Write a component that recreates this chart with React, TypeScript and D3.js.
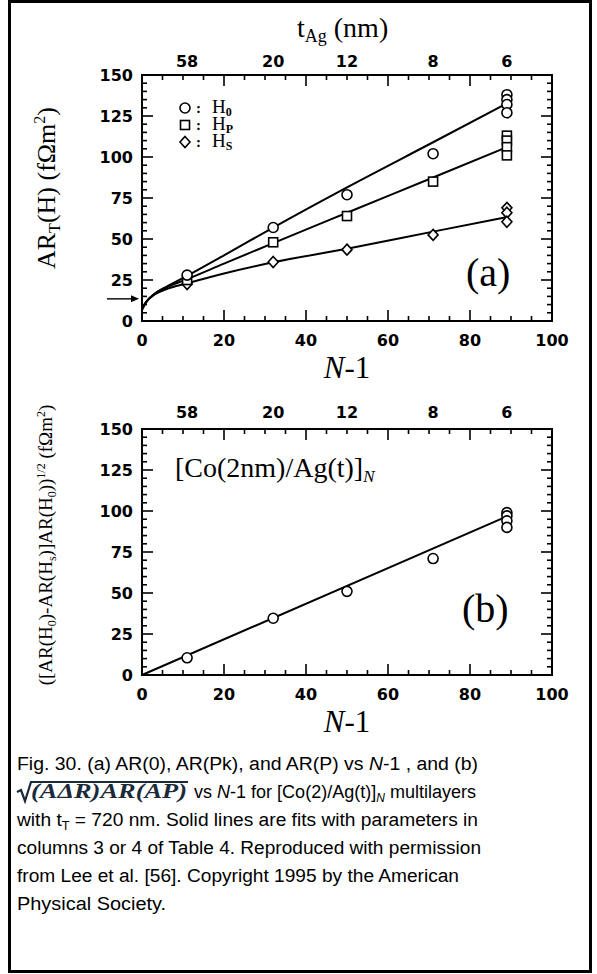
import React from 'react';
import * as d3 from 'd3';

// ---- data ----
const xTickMajor = [0, 20, 40, 60, 80, 100];
const yTickMajor = [0, 25, 50, 75, 100, 125, 150];
const topTickPos = [11, 32, 50, 71, 89];
const topTickLabels = ['58', '20', '12', '8', '6'];

const h0Points: [number, number][] = [[11, 28], [32, 57], [50, 77], [71, 102], [89, 138], [89, 135], [89, 132], [89, 127]];
const hpPoints: [number, number][] = [[11, 25], [32, 48], [50, 64], [71, 85], [89, 113], [89, 110], [89, 106], [89, 101]];
const hsPoints: [number, number][] = [[11, 22.5], [32, 36], [50, 43.5], [71, 52.5], [89, 69], [89, 66], [89, 60.5]];
const bPoints: [number, number][] = [[11, 10.5], [32, 34.6], [50, 51], [71, 71], [89, 99], [89, 97], [89, 94], [89, 90]];

const h0Fit: [number, number][] = [[0, 7], [1, 11.5], [3, 16.5], [6, 21], [11, 27.5], [20, 40], [32, 57], [50, 81.5], [71, 109], [89, 132.7]];
const hpFit: [number, number][] = [[0, 7], [1, 11.5], [3, 16.5], [6, 20.5], [11, 25.5], [20, 35], [32, 47.5], [50, 66], [71, 87.5], [89, 106]];
const hsFit: [number, number][] = [[0, 7], [1, 11.5], [3, 16], [6, 19.5], [11, 23], [20, 29], [32, 35.8], [50, 44], [71, 54.5], [89, 63.4]];
const bFit: [number, number][] = [[0, 0], [89, 96.7]];

const arrowY = 13.5;

const serif = '"Liberation Serif", "Times New Roman", serif';
const sans = '"DejaVu Sans", sans-serif';
const capFont = '"Liberation Sans", Arial, sans-serif';

const x = d3.scaleLinear().domain([0, 100]).range([142, 552]);
const yA = d3.scaleLinear().domain([0, 150]).range([321, 75]);
const yB = d3.scaleLinear().domain([0, 150]).range([675, 429]);

type Sc = d3.ScaleLinear<number, number>;

function Circle({ cx, cy }: { cx: number; cy: number }) {
  return <circle cx={cx} cy={cy} r={5} fill="white" stroke="black" strokeWidth={1.6} />;
}
function Square({ cx, cy }: { cx: number; cy: number }) {
  return <rect x={cx - 4.5} y={cy - 4.5} width={9} height={9} fill="white" stroke="black" strokeWidth={1.6} />;
}
function Diamond({ cx, cy }: { cx: number; cy: number }) {
  return <path d={`M${cx},${cy - 5.5}L${cx + 5},${cy}L${cx},${cy + 5.5}L${cx - 5},${cy}Z`} fill="white" stroke="black" strokeWidth={1.6} />;
}

function Axes({ y, topLabelOffset }: { y: Sc; topLabelOffset: number }) {
  const x0 = x(0), x1 = x(100), yt = y(150), yb = y(0);
  const xMinor = d3.range(5, 100, 5);
  const yMinor = d3.range(5, 150, 5);
  return (
    <g>
      <rect x={x0} y={yt} width={x1 - x0} height={yb - yt} fill="none" stroke="black" strokeWidth={2} />
      {xMinor.map(v => {
        const len = v % 20 === 0 ? 11 : 5;
        return (
          <g key={'xt' + v}>
            <line x1={x(v)} x2={x(v)} y1={yb} y2={yb - len} stroke="black" strokeWidth={1.6} />
            <line x1={x(v)} x2={x(v)} y1={yt} y2={yt + len} stroke="black" strokeWidth={1.6} />
          </g>
        );
      })}
      {yMinor.map(v => {
        const len = v % 25 === 0 ? 11 : 5;
        return (
          <g key={'yt' + v}>
            <line x1={x0} x2={x0 + len} y1={y(v)} y2={y(v)} stroke="black" strokeWidth={1.6} />
            <line x1={x1} x2={x1 - len} y1={y(v)} y2={y(v)} stroke="black" strokeWidth={1.6} />
          </g>
        );
      })}
      {xTickMajor.map(v => (
        <text key={'xl' + v} x={x(v)} y={yb + 25} textAnchor="middle" fontFamily={sans} fontWeight="bold" fontSize={16}>{v}</text>
      ))}
      {yTickMajor.map(v => (
        <text key={'yl' + v} x={133} y={y(v) + 6} textAnchor="end" fontFamily={sans} fontWeight="bold" fontSize={16}>{v}</text>
      ))}
      {topTickPos.map((v, i) => (
        <text key={'tl' + v} x={x(v)} y={yt - topLabelOffset} textAnchor="middle" fontFamily={sans} fontWeight="bold" fontSize={16}>{topTickLabels[i]}</text>
      ))}
      <text x={347} y={yb + 57} textAnchor="middle" fontFamily={serif} fontSize={31}>
        <tspan fontStyle="italic">N</tspan>-1
      </text>
    </g>
  );
}

export default function App() {
  const lineA = d3.line<[number, number]>().x(d => x(d[0])).y(d => yA(d[1])).curve(d3.curveMonotoneX);
  const lineB = d3.line<[number, number]>().x(d => x(d[0])).y(d => yB(d[1])).curve(d3.curveMonotoneX);
  const capLines = [770, 798, 826, 854, 882, 910];
  return (
    <svg width={597} height={974} viewBox="0 0 597 974" style={{ position: 'absolute', left: 0, top: 0, background: 'white' }}>
      <rect x={0} y={0} width={597} height={974} fill="white" />
      <rect x={9.5} y={1.5} width={581} height={970} fill="none" stroke="black" strokeWidth={3} />

      {/* Panel (a) */}
      <text x={297} y={37} fontFamily={serif} fontSize={28}>
        t<tspan fontSize={18} dy={5}>Ag</tspan><tspan dy={-5}> (nm)</tspan>
      </text>
      <Axes y={yA} topLabelOffset={8} />
      <text transform="translate(55,188) rotate(-90)" textAnchor="middle" fontFamily={serif} fontSize={26}>
        AR<tspan fontSize={16} dy={5}>T</tspan><tspan dy={-5}>(H) (fΩm</tspan><tspan fontSize={16} dy={-10}>2</tspan><tspan dy={10}>)</tspan>
      </text>
      <path d={lineA(h0Fit) || ''} fill="none" stroke="black" strokeWidth={2} />
      <path d={lineA(hpFit) || ''} fill="none" stroke="black" strokeWidth={2} />
      <path d={lineA(hsFit) || ''} fill="none" stroke="black" strokeWidth={2} />
      {hsPoints.map((p, i) => <Diamond key={'hs' + i} cx={x(p[0])} cy={yA(p[1])} />)}
      {hpPoints.map((p, i) => <Square key={'hp' + i} cx={x(p[0])} cy={yA(p[1])} />)}
      {h0Points.map((p, i) => <Circle key={'h0' + i} cx={x(p[0])} cy={yA(p[1])} />)}
      {/* arrow */}
      <line x1={107} x2={132} y1={yA(arrowY)} y2={yA(arrowY)} stroke="black" strokeWidth={1.4} />
      <path d={`M${x(0) - 3},${yA(arrowY)}L${x(0) - 11},${yA(arrowY) - 3.5}L${x(0) - 11},${yA(arrowY) + 3.5}Z`} fill="black" />
      {/* legend */}
      <Circle cx={185} cy={108} />
      <Square cx={185} cy={125} />
      <Diamond cx={185} cy={142} />
      {[108, 125, 142].map(v => (
        <text key={'c' + v} x={196} y={v + 5} fontFamily={serif} fontWeight="bold" fontSize={15}>:</text>
      ))}
      <text x={212} y={113} fontFamily={serif} fontSize={19}>H<tspan fontSize={12} fontWeight="bold" dy={3}>0</tspan></text>
      <text x={212} y={130} fontFamily={serif} fontSize={19}>H<tspan fontSize={12} fontWeight="bold" dy={3}>P</tspan></text>
      <text x={212} y={147} fontFamily={serif} fontSize={19}>H<tspan fontSize={12} fontWeight="bold" dy={3}>S</tspan></text>
      <text x={466} y={286} fontFamily={serif} fontSize={40}>(a)</text>

      {/* Panel (b) */}
      <Axes y={yB} topLabelOffset={11} />
      <text transform="translate(52,545) rotate(-90)" textAnchor="middle" fontFamily={serif} fontSize={19}>
        ([AR(H<tspan fontSize={12} dy={4}>0</tspan><tspan dy={-4}>)-AR(H</tspan><tspan fontSize={12} dy={4}>s</tspan><tspan dy={-4}>)]AR(H</tspan><tspan fontSize={12} dy={4}>0</tspan><tspan dy={-4}>))</tspan><tspan fontSize={12} dy={-7}>1/2</tspan><tspan dy={7}> (fΩm</tspan><tspan fontSize={12} dy={-7}>2</tspan><tspan dy={7}>)</tspan>
      </text>
      <path d={lineB(bFit) || ''} fill="none" stroke="black" strokeWidth={2} />
      {bPoints.map((p, i) => <Circle key={'b' + i} cx={x(p[0])} cy={yB(p[1])} />)}
      <text x={175} y={477} fontFamily={serif} fontSize={28}>
        [Co(2nm)/Ag(t)]<tspan fontSize={17} fontStyle="italic" dy={5}>N</tspan>
      </text>
      <text x={462} y={622} fontFamily={serif} fontSize={40}>(b)</text>

      {/* caption */}
      <g fontFamily={capFont} fontSize={18} fill="black">
        <text x={17} y={capLines[0]} textLength={461} lengthAdjust="spacingAndGlyphs">
          Fig. 30.  (a) AR(0), AR(Pk), and AR(P) vs <tspan fontStyle="italic">N</tspan>-1 , and (b)
        </text>
        <g>
          <path d={`M17,${capLines[1] - 6}L21,${capLines[1] - 8}L25,${capLines[1] + 3}L31,${capLines[1] - 16}L188,${capLines[1] - 16}`} fill="none" stroke="#1b2a3a" strokeWidth={2.2} />
          <text x={31} y={capLines[1]} textLength={156} lengthAdjust="spacingAndGlyphs" fontFamily={serif} fontStyle="italic" fontWeight="bold" fontSize={20} fill="#1b2a3a">
            (AΔR)AR(AP)
          </text>
        </g>
        <text x={194} y={capLines[1]} textLength={282} lengthAdjust="spacingAndGlyphs">
          vs <tspan fontStyle="italic">N</tspan>-1 for [Co(2)/Ag(t)]<tspan fontStyle="italic" fontSize={12} dy={4}>N</tspan><tspan dy={-4}> multilayers</tspan>
        </text>
        <text x={17} y={capLines[2]} textLength={461} lengthAdjust="spacingAndGlyphs">
          with t<tspan fontSize={12} dy={4}>T</tspan><tspan dy={-4}> = 720 nm. Solid lines are fits with parameters in</tspan>
        </text>
        <text x={17} y={capLines[3]} textLength={464} lengthAdjust="spacingAndGlyphs">
          columns 3 or 4 of Table 4. Reproduced with permission
        </text>
        <text x={17} y={capLines[4]} textLength={442} lengthAdjust="spacingAndGlyphs">
          from Lee et al. [56]. Copyright 1995 by the American
        </text>
        <text x={17} y={capLines[5]} textLength={149} lengthAdjust="spacingAndGlyphs">
          Physical Society.
        </text>
      </g>
    </svg>
  );
}
